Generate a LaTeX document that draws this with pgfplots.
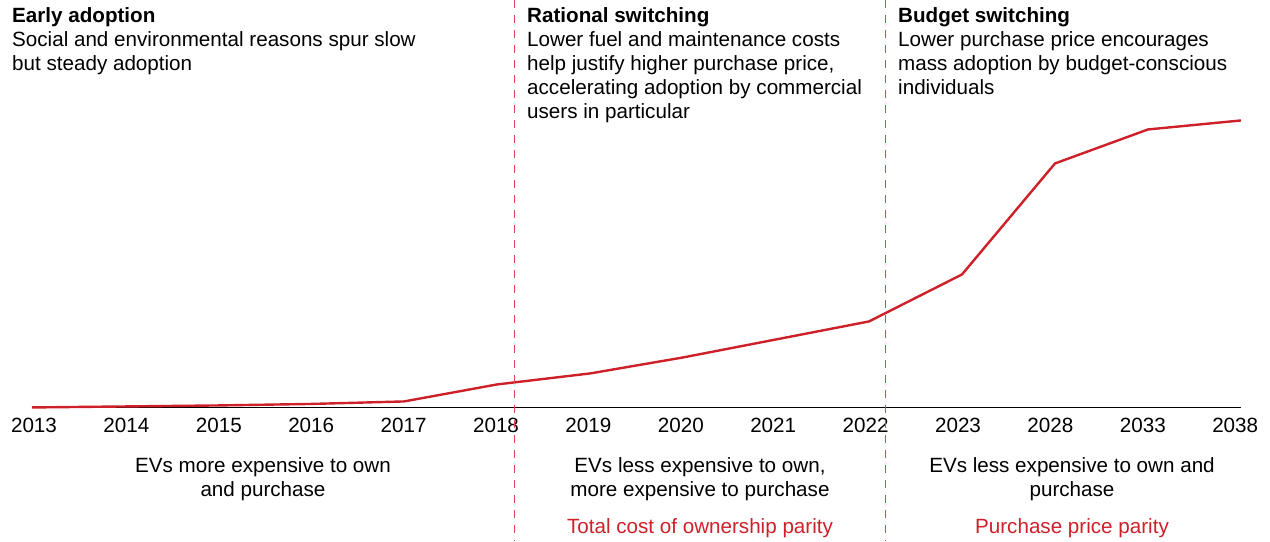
\documentclass[border=0pt]{standalone}
\usepackage{pgfplots}
\pgfplotsset{compat=1.18}
\usepackage{fontspec}
\setmainfont{Liberation Sans}
\definecolor{evred}{RGB}{206,32,41}
\definecolor{dashred}{RGB}{225,70,85}
\newcommand{\fs}{\fontsize{20.7}{24}\selectfont}
\begin{document}
\begin{tikzpicture}
\begin{axis}[
  scale only axis,
  width=1209bp, height=407bp,
  xmin=0, xmax=13, ymin=0, ymax=407,
  clip=false,
  axis x line*=bottom,
  axis y line=none,
  axis line style={black, line width=1.3bp, -},
  xtick={0.0215,1.0151,2.0086,3.0022,3.9957,4.9893,5.9828,6.9764,7.9699,8.9635,9.957,10.9506,11.9441,12.9377},
  xticklabels={2013,2014,2015,2016,2017,2018,2019,2020,2021,2022,2023,2028,2033,2038},
  major tick length=0pt,
  xticklabel style={font=\fs, inner sep=0pt, anchor=north, yshift=-10.5bp},
  /pgf/number format/assume math mode=true,
]
\path (axis cs:-0.3441,-134) rectangle (axis cs:13.3118,407);
\addplot[evred, line width=2.4bp, mark=none] coordinates {
(0,0) (1,1) (2,2) (3,3.5) (4,6) (5,23) (6,34) (7,50) (8,68) (9,86) (10,133) (11,244) (12,278) (13,287)
};
\draw[dashred, line width=0.9bp, dash pattern=on 8bp off 7bp] (axis cs:5.1828,407) -- (axis cs:5.1828,-134);
\draw[dashred, line width=0.9bp, dash pattern=on 8bp off 7bp] (axis cs:9.172,407) -- (axis cs:9.172,-134);
\node[anchor=north west, inner sep=0pt, align=left, font=\fs] at (axis cs:-0.2151,400)
 {\textbf{Early adoption}\\Social and environmental reasons spur slow\\but steady adoption};
\node[anchor=north west, inner sep=0pt, align=left, font=\fs] at (axis cs:5.3226,400)
 {\textbf{Rational switching}\\Lower fuel and maintenance costs\\help justify higher purchase price,\\accelerating adoption by commercial\\users in particular};
\node[anchor=north west, inner sep=0pt, align=left, font=\fs] at (axis cs:9.3118,400)
 {\textbf{Budget switching}\\Lower purchase price encourages\\mass adoption by budget-conscious\\individuals};
\node[anchor=north, inner sep=0pt, align=center, font=\fs] at (axis cs:2.4839,-49.5)
 {EVs more expensive to own\\and purchase};
\node[anchor=north, inner sep=0pt, align=center, font=\fs] at (axis cs:7.1828,-49.5)
 {EVs less expensive to own,\\more expensive to purchase};
\node[anchor=north, inner sep=0pt, align=center, font=\fs] at (axis cs:11.1828,-49.5)
 {EVs less expensive to own and\\purchase};
\node[anchor=north, inner sep=0pt, text=evred, font=\fs] at (axis cs:7.1828,-110.5)
 {Total cost of ownership parity};
\node[anchor=north, inner sep=0pt, text=evred, font=\fs] at (axis cs:11.1828,-110.5)
 {Purchase price parity};
\end{axis}
\end{tikzpicture}
\end{document}
